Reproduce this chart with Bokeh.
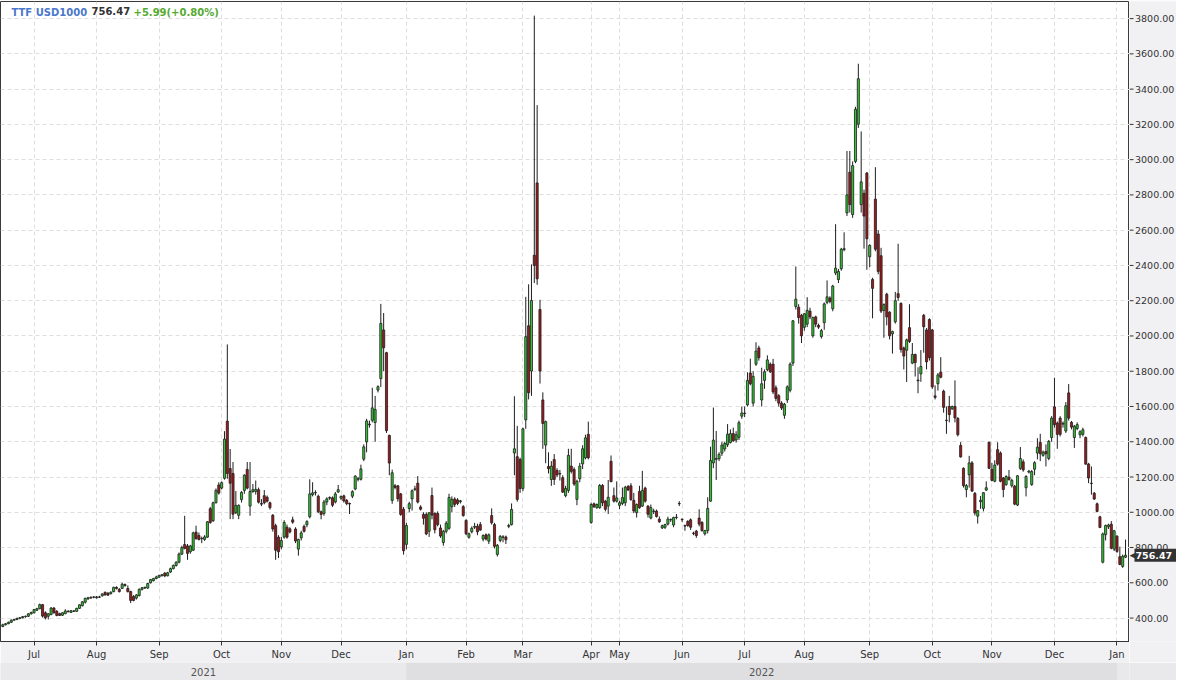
from bokeh.plotting import figure
from bokeh.models import ColumnDataSource, FixedTicker, Label, Range1d, Grid
from bokeh.layouts import column, row
from bokeh.embed import file_html
from bokeh.resources import INLINE
from bokeh.core.properties import value

# ---- data: daily candles (open, high, low, close) per month ----
jun21 = [(352,368,348,362),(362,372,358,368),(368,380,365,376),(376,392,372,388),(388,396,384,392),(392,402,388,398),(398,406,393,402),(402,412,398,408),(408,414,402,410),(410,428,406,424),(424,436,420,432)]
jul21 = [(430,452,426,448),(444,458,440,453),(453,482,450,476),(476,480,403,411),(430,438,392,402),(410,428,392,424),(420,462,416,457),(457,462,425,430),(438,445,410,415),(425,430,412,415),(416,432,412,430),(425,450,422,440),(438,445,432,436),(432,445,430,442),(440,446,435,438),(438,458,436,455),(455,478,452,475),(470,496,466,492),(490,515,482,512),(510,520,502,515),(514,522,508,518),(518,524,512,520)]
aug21 = [(515,525,510,520),(520,526,514,518),(526,540,522,537),(546,550,528,531),(540,548,526,530),(538,552,534,546),(550,578,546,574),(574,580,562,568),(563,570,545,550),(568,600,565,592),(590,596,578,584),(568,585,545,550),(550,555,485,500),(522,530,495,500),(513,536,505,531),(528,568,522,563),(563,575,556,572),(570,578,565,574),(570,600,566,596),(600,622,596,618),(612,628,608,624),(624,640,620,633)]
sep21 = [(632,645,628,642),(640,650,636,646),(655,660,632,639),(640,662,636,657),(661,686,656,680),(680,704,676,698),(698,722,692,717),(717,772,710,763),(763,810,757,800),(817,980,790,795),(809,820,730,767),(776,815,765,809),(785,890,780,883),(887,924,845,850),(868,885,840,846),(850,862,825,852),(846,870,838,860),(859,950,855,946),(1020,1030,935,942),(952,1060,945,1054),(1054,1135,1050,1124),(1155,1170,1100,1109)]
oct21 = [(1137,1175,1130,1168),(1193,1460,1185,1415),(1517,1952,1190,1220),(1248,1359,961,1165),(1220,1285,961,989),(998,1120,990,1039),(983,1045,961,1039),(1072,1120,1055,1113),(1124,1215,1105,1211),(1243,1285,1130,1137),(1035,1285,980,1118),(1118,1160,1110,1128),(1118,1180,1100,1130),(1128,1140,1050,1057),(1050,1075,1035,1046),(1094,1126,1045,1054),(1085,1095,1055,1063),(1054,1060,1015,1026),(983,990,890,905),(924,935,730,785),(859,870,740,776)]
nov21 = [(804,860,790,840),(859,955,850,942),(915,930,850,859),(906,915,880,888),(957,975,935,944),(905,915,825,837),(791,850,754,846),(855,895,840,883),(920,930,885,892),(929,955,915,947),(975,1187,965,1104),(1100,1170,1090,1110),(1110,1125,1095,1112),(1091,1100,995,1003),(1003,1010,960,988),(993,1070,980,1058),(1058,1085,1040,1076),(1080,1090,1070,1084),(1082,1090,1030,1040),(1058,1115,1050,1104),(1115,1155,1110,1128)]
dec21 = [(1080,1095,1070,1090),(1093,1100,1055,1064),(1067,1075,1040,1049),(1050,1055,990,1047),(1091,1125,1080,1117),(1132,1210,1125,1205),(1187,1200,1175,1190),(1187,1270,1180,1246),(1301,1385,1290,1371),(1399,1530,1340,1518),(1500,1520,1480,1496),(1522,1706,1510,1592),(1509,1660,1400,1583),(1693,1720,1680,1712),(1758,2182,1710,2071),(2034,2130,1800,1933),(1905,1910,1450,1463),(1436,1440,1210,1279),(1067,1242,1048,1224),(1150,1160,1130,1141),(1150,1155,1060,1076),(1104,1110,980,988),(1017,1030,760,782)]
jan22 = [(818,940,790,925),(1021,1060,1000,1049),(1076,1130,1010,1122),(1130,1150,1120,1133),(1165,1205,1050,1058),(1030,1040,1010,1017),(988,1000,930,966),(988,1000,870,877),(892,1000,860,997),(1095,1140,960,984),(993,1000,880,901),(993,1005,920,930),(911,930,855,865),(828,900,810,892),(892,950,880,938),(909,1105,900,1084),(1032,1090,1000,1073),(1075,1085,1030,1045),(1070,1080,1040,1050),(1060,1070,1050,1065),(1032,1040,975,981)]
feb22 = [(954,960,870,878),(858,885,850,878),(889,920,880,909),(915,940,905,920),(920,935,870,889),(930,945,895,899),(848,875,835,868),(872,880,840,848),(836,880,820,872),(981,1022,930,940),(930,940,795,807),(761,820,749,813),(840,870,830,864),(860,870,830,858),(860,868,820,844),(920,935,910,925),(930,1050,925,1016),(1336,1658,1210,1360),(1315,1490,1060,1073),(1299,1310,1110,1135)]
mar22 = [(1135,1480,1120,1473),(1524,2222,1473,1996),(2058,2293,1640,1678),(1801,2406,1660,2201),(2458,3817,2300,2400),(2868,3309,2290,2324),(2150,2205,1730,1801),(1637,1680,1360,1504),(1381,1520,1278,1514),(1260,1340,1220,1247),(1186,1290,1150,1262),(1299,1330,1155,1186),(1237,1250,1200,1212),(1220,1240,1180,1217),(1196,1210,1110,1114),(1094,1150,1085,1135),(1124,1360,1110,1323),(1262,1360,1220,1232),(1243,1255,1150,1160),(1073,1185,1040,1176),(1190,1280,1170,1262),(1274,1380,1245,1360),(1309,1440,1300,1422),(1442,1514,1300,1309)]
apr22 = [(942,1055,935,1044),(1048,1055,1025,1031),(1026,1050,1020,1044),(1026,1160,1020,1152),(1152,1160,1035,1054),(1063,1070,1005,1017),(1035,1183,990,1085),(1289,1322,1170,1174),(1094,1140,1055,1063),(1063,1175,1055,1081)]
may22 = [(1039,1065,1017,1054),(1050,1140,1040,1083),(1054,1150,1035,1142),(1146,1155,1120,1127),(1150,1165,1065,1072),(1068,1110,995,1007),(998,1050,970,1044),(1118,1150,1020,1026),(1035,1235,1030,1124),(1137,1145,1055,1063),(1035,1040,970,989),(967,1044,960,1026),(1005,1020,990,1007),(1007,1015,970,976),(961,976,940,946),(911,930,905,924),(915,935,905,930),(933,975,925,961),(957,965,945,959),(928,975,915,970),(970,990,960,972),(1050,1063,1035,1048)]
jun22 = [(961,965,945,958),(924,930,895,922),(948,955,918,924),(957,965,900,915),(881,890,870,880),(893,900,855,868),(967,1017,920,933),(942,950,890,896),(878,900,868,896),(896,1085,880,1022),(1063,1372,1060,1294),(1280,1594,1250,1409),(1300,1461,1183,1305),(1304,1340,1290,1328),(1335,1400,1320,1381),(1359,1400,1345,1390),(1383,1500,1370,1443),(1396,1470,1390,1446),(1446,1480,1400,1405),(1410,1460,1395,1440),(1425,1520,1410,1508),(1545,1600,1530,1563)]
jul22 = [(1560,1600,1540,1563),(1609,1794,1600,1748),(1790,1871,1720,1729),(1619,1800,1600,1771),(1840,1964,1830,1914),(1932,1945,1860,1877),(1637,1820,1600,1729),(1748,1810,1700,1797),(1809,1890,1800,1864),(1840,1850,1790,1797),(1840,1870,1670,1683),(1706,1720,1630,1646),(1661,1670,1600,1619),(1619,1630,1580,1591),(1550,1620,1530,1613),(1637,1720,1620,1711),(1692,1850,1680,1840),(1846,2090,1830,2086),(2167,2394,2150,2209),(2163,2180,2070,2104),(2117,2125,1960,2001)]
aug22 = [(2049,2130,2030,2126),(2067,2220,2050,2145),(2141,2160,2095,2108),(2001,2110,1990,2104),(2108,2115,2050,2067),(2060,2070,2040,2050),(1997,2040,1985,2030),(2075,2190,2035,2182),(2191,2315,2180,2222),(2215,2225,2185,2196),(2154,2290,2140,2283),(2357,2634,2345,2385),(2320,2380,2300,2366),(2381,2500,2370,2492),(2490,2588,2480,2495),(2698,3049,2680,2800),(2929,3049,2700,2745),(2689,2990,2670,2966),(2990,3300,2980,3286),(3201,3544,3180,3459),(2745,3160,2700,2874),(2809,2830,2495,2680),(2924,2930,2375,2551)]
sep22 = [(2449,2520,2390,2514),(2320,2330,2100,2270),(2776,2957,2480,2492),(2578,2600,2350,2366),(2455,2500,2130,2141),(2145,2185,1990,2178),(2237,2245,2060,2108),(2135,2140,1980,2001),(2012,2030,1900,2025),(2080,2250,2070,2200),(2240,2523,2200,2218),(2185,2190,1905,1923),(1932,1940,1810,1886),(1919,1985,1739,1978),(2047,2180,1960,1969),(1846,1960,1840,1895),(1895,1900,1770,1849),(1750,1822,1675,1746),(1785,1920,1740,1827),(2117,2125,1905,2052),(2034,2045,1810,1853),(2093,2100,1860,1877)]
oct22 = [(2034,2040,1700,1711),(1660,1720,1640,1652),(1729,1790,1690,1779),(1794,1880,1760,1766),(1687,1695,1565,1595),(1520,1600,1445,1522),(1600,1660,1510,1554),(1587,1605,1580,1600),(1600,1748,1510,1535),(1532,1540,1430,1440),(1379,1398,1310,1314),(1249,1255,1140,1151),(1129,1160,1085,1151),(1212,1320,1140,1280),(1280,1290,1115,1120),(1107,1115,982,996),(978,1012,936,1009),(1060,1092,1020,1068),(1022,1115,1005,1111),(1126,1175,1120,1139),(1397,1400,1245,1249)]
nov22 = [(1244,1280,1175,1181),(1176,1295,1170,1268),(1355,1397,1265,1273),(1336,1345,1170,1176),(1194,1200,1085,1129),(1157,1210,1150,1203),(1199,1240,1180,1185),(1151,1190,1140,1181),(1148,1155,1040,1046),(1041,1210,1035,1207),(1249,1370,1240,1305),(1286,1300,1230,1240),(1139,1210,1090,1203),(1228,1240,1220,1233),(1157,1240,1150,1231),(1244,1290,1210,1281),(1336,1420,1300,1369),(1396,1445,1290,1332),(1323,1350,1315,1341),(1345,1385,1260,1332),(1305,1410,1295,1402),(1424,1545,1400,1534)]
dec22 = [(1598,1763,1480,1497),(1506,1515,1360,1442),(1534,1545,1430,1442),(1500,1515,1480,1505),(1461,1625,1450,1604),(1677,1727,1520,1534),(1510,1518,1470,1483),(1424,1495,1365,1488),(1475,1510,1465,1497),(1439,1465,1420,1457),(1442,1480,1430,1468),(1424,1430,1270,1273),(1273,1280,1165,1194),(1163,1260,1100,1165),(1108,1115,1070,1075),(1048,1055,1000,1005),(974,980,910,914),(717,885,710,877),(873,930,840,925),(918,935,905,928),(932,950,790,796),(791,900,780,895)]
jan23 = [(864,870,770,778),(748,805,700,704),(693,760,685,750.48),(745,845,740,756.47)]

month_data = [jun21, jul21, aug21, sep21, oct21, nov21, dec21, jan22, feb22, mar22, apr22,
              may22, jun22, jul22, aug22, sep22, oct22, nov22, dec22, jan23]
month_labels = ["Jun", "Jul", "Aug", "Sep", "Oct", "Nov", "Dec", "Jan", "Feb", "Mar", "Apr",
                "May", "Jun", "Jul", "Aug", "Sep", "Oct", "Nov", "Dec", "Jan"]
month_years = [2021] * 7 + [2022] * 12 + [2023]
year_labels = {2021: "2021", 2022: "2022", 2023: ""}
y_ticks = [400, 600, 800, 1000, 1200, 1400, 1600, 1800, 2000, 2200, 2400, 2600, 2800, 3000, 3200, 3400, 3600, 3800]
symbol = "TTF USD1000"
last_price = "756.47"
change_text = "+5.99(+0.80%)"

# ---- build columns ----
xs, o, h, l, c, month_start = [], [], [], [], [], []
for m in month_data:
    month_start.append(len(xs))
    for (a, b, d, e) in m:
        xs.append(len(xs)); o.append(a); h.append(b); l.append(d); c.append(e)
n = len(xs)
GREEN, RED = "#33c633", "#a3181b"
src = ColumnDataSource(dict(
    x=xs, o=o, h=h, l=l, c=c,
    top=[max(a, e) for a, e in zip(o, c)],
    bottom=[min(a, e) for a, e in zip(o, c)],
    color=[GREEN if e >= a else RED for a, e in zip(o, c)],
))

x_start, x_end = -0.8, n + 0.4
y_start, y_end = 267, 3897
BORDER = "#f1f1f3"
RIGHT = 47
BOTTOM = 21
TOTAL_W = 1176
MAIN_H = 662

p = figure(width=TOTAL_W - RIGHT, height=MAIN_H, x_range=Range1d(x_start, x_end),
           y_range=Range1d(y_start, y_end), y_axis_type=None,
           toolbar_location=None, output_backend="svg",
           min_border_left=0, min_border_right=0, min_border_top=1, min_border_bottom=BOTTOM,
           background_fill_color="white", border_fill_color=BORDER,
           outline_line_color="#3a3a3a", outline_line_width=1)

tick_idx = month_start[1:]
ax = p.xaxis[0]
ax.ticker = FixedTicker(ticks=tick_idx)
ax.major_label_overrides = {i: month_labels[k + 1] for k, i in enumerate(tick_idx)}
ax.major_label_text_font = "DejaVu Sans"
ax.major_label_text_font_size = "10px"
ax.major_label_text_color = "#333333"
ax.axis_line_color = "#333333"
ax.major_tick_line_color = "#333333"
ax.major_tick_out = 4
ax.major_tick_in = 0
ax.minor_tick_line_color = None
ax.major_label_standoff = 3

p.add_layout(Grid(dimension=1, ticker=FixedTicker(ticks=y_ticks)))
for g in p.grid:
    g.grid_line_color = "#dedede"
    g.grid_line_dash = "4 3"
    g.grid_line_width = 1

p.segment(x0="x", y0="l", x1="x", y1="h", source=src, line_color="#1e1e1e", line_width=1)
p.vbar(x="x", width=0.74, top="top", bottom="bottom", source=src,
       fill_color="color", line_color="#1e1e1e", line_width=0.8)

# header texts
for txt, off, col in ((symbol, 11, "#4a78cc"), (last_price, 91, "#333333"), (change_text, 133, "#55aa30")):
    p.add_layout(Label(x=x_start, y=y_end, x_offset=off, y_offset=-5, text=txt,
                       text_font="DejaVu Sans", text_font_style="bold", text_font_size="10px",
                       text_color=col, text_baseline="top", text_align="left"))

# ---- right price scale (its own narrow panel sharing the y range) ----
side = figure(width=RIGHT, height=MAIN_H, x_range=Range1d(0, RIGHT), y_range=p.y_range,
              toolbar_location=None, output_backend="svg", x_axis_type=None, y_axis_type=None,
              min_border_left=0, min_border_right=0, min_border_top=1, min_border_bottom=BOTTOM,
              background_fill_color=BORDER, border_fill_color=BORDER, outline_line_color=None)
side.grid.visible = False
tick_src = ColumnDataSource(dict(y=y_ticks, label=[f"{t:.2f}" for t in y_ticks]))
side.segment(x0=0, y0="y", x1=4, y1="y", source=tick_src, line_color="#333333", line_width=1)
side.text(x=5.5, y="y", text="label", source=tick_src, text_baseline="middle", text_align="left",
          text_font=value("DejaVu Sans"), text_font_size="9.5px", text_color="#333333")
last_close = c[-1]
tag_src = ColumnDataSource(dict(y=[last_close], label=[last_price]))
side.rect(x=(RIGHT + 5) / 2, y="y", width=RIGHT - 5, height=13, height_units="screen", source=tag_src,
          fill_color="#333333", line_color=None)
side.text(x=0, y="y", text=value("\u25c0"), source=tag_src, text_baseline="middle", text_align="left",
          text_font=value("DejaVu Sans"), text_font_size="9px", text_color="#333333")
side.text(x=6, y="y", text="label", source=tag_src, text_baseline="middle", text_align="left",
          text_font=value("DejaVu Sans"), text_font_style="bold", text_font_size="9.5px",
          text_color="white")

# ---- year band below the month axis ----
year_idx = [month_start[k] for k in range(len(month_years)) if k == 0 or month_years[k] != month_years[k - 1]]
years = [month_years[month_start.index(i)] for i in year_idx]
lefts = [x_start] + year_idx[1:]
rights = year_idx[1:] + [x_end]
band_src = ColumnDataSource(dict(
    left=lefts, right=rights,
    fill=["#e9e9eb" if k % 2 == 0 else "#dfdfe2" for k in range(len(years))],
    mid=[(a + b) / 2 for a, b in zip(lefts, rights)],
    label=[year_labels[y] for y in years],
))
band = figure(width=TOTAL_W, height=18, x_range=p.x_range, y_range=Range1d(0, 1),
              toolbar_location=None, output_backend="svg", x_axis_type=None, y_axis_type=None,
              min_border_left=0, min_border_right=RIGHT, min_border_top=0, min_border_bottom=0,
              border_fill_color="#e9e9eb", outline_line_color=None, background_fill_color="#e9e9eb")
band.grid.visible = False
band.quad(left="left", right="right", bottom=0, top=1, fill_color="fill", line_color=None, source=band_src)
band.text(x="mid", y=0.5, text="label", source=band_src, text_align="center", text_baseline="middle",
          text_font=value("DejaVu Sans"), text_font_size="10px", text_color="#555555")

layout = column(row(p, side, spacing=0), band, spacing=0)
open("out.html", "w").write(file_html(layout, INLINE))
